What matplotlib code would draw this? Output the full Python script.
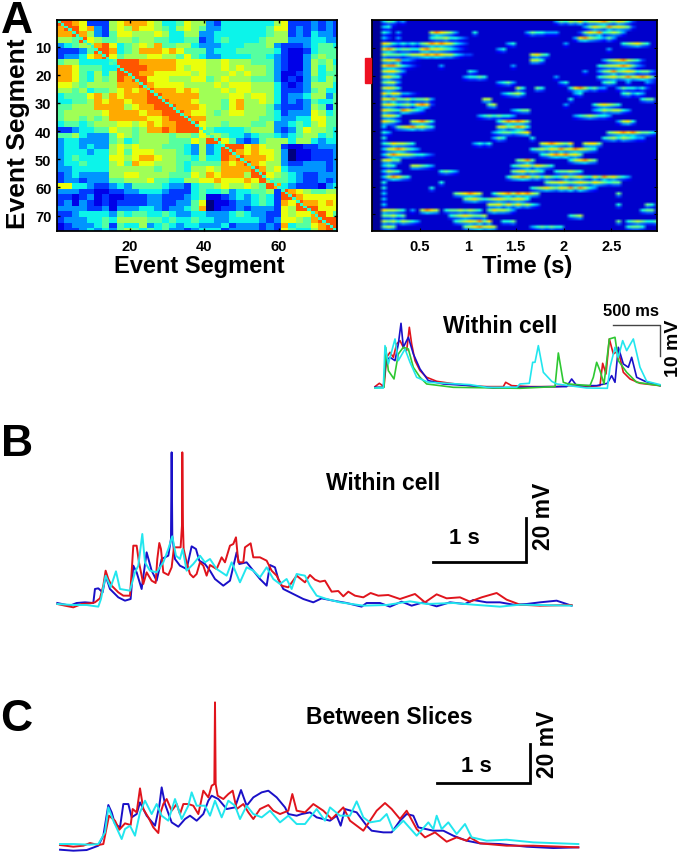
import numpy as np
import matplotlib
matplotlib.use('Agg')
import matplotlib.pyplot as plt
from matplotlib.patches import Rectangle

plt.rcParams['font.family'] = ['Liberation Sans', 'DejaVu Sans']
plt.rcParams['font.weight'] = 'bold'

W, H = 681, 853

# correlation matrix, blocks of 2 event segments, level 0-9
corr_rows = [
    "99872 22678 88764 45766 32444 44446 72223 232",
    "89978 32676 87765 46765 33444 44457 72323 232",
    "88986 32577 66676 44663 34444 44456 62324 332",
    "66597 65566 56655 44552 34544 44566 63334 433",
    "34566 89745 67685 56643 33444 55563 22234 554",
    "22235 99845 68887 87555 34445 55554 21124 555",
    "23347 89756 66776 65754 33444 45543 21135 655",
    "56644 44599 98888 87777 66766 65553 21136 564",
    "88755 54499 99888 87677 66767 66653 21136 465",
    "88754 64699 98877 77767 66676 76653 11236 455",
    "88754 65698 99777 66677 56766 65553 12135 465",
    "77656 66688 89877 77666 67677 76664 21236 664",
    "66564 55678 78988 87876 66767 76664 22235 644",
    "45557 86878 88998 88886 66677 67764 23346 635",
    "44556 87887 88999 88876 66578 66764 23235 445",
    "55666 88886 78899 98887 66578 66653 22236 525",
    "56666 67888 87889 99877 65677 66654 23337 645",
    "56656 56888 88778 99988 66666 66554 33447 755",
    "45545 66677 67878 89997 66566 65563 34546 755",
    "22344 55766 56889 89997 54444 56663 23576 654",
    "55643 33576 56666 56657 66544 34554 34566 454",
    "34433 33564 56666 55576 99753 23566 64664 344",
    "34434 33676 76665 55436 34999 78766 21122 333",
    "34443 44675 77766 65436 34998 78776 30112 223",
    "34544 44776 78876 65546 44989 88876 30112 223",
    "34454 44675 87766 65455 55878 98766 32233 323",
    "33444 44666 66656 65466 76888 89867 43333 323",
    "23433 33667 76666 55576 87888 69976 54322 333",
    "23323 33556 66755 44667 78777 87965 54322 323",
    "77443 22343 55554 33245 56766 76598 43222 134",
    "33322 11223 34443 22245 44534 45562 98765 566",
    "22123 12112 22332 22345 11234 34542 99877 777",
    "23132 12122 22332 23357 01123 34542 87988 787",
    "33332 23133 34432 33458 01223 23332 76999 777",
    "22344 44354 55445 43344 33345 43322 76778 975",
    "23334 45466 66554 54454 43344 44323 77658 999",
    "12333 45254 46345 43443 33423 33232 84557 899",
    "12234 34356 54545 33234 44233 33232 75446 899",
]
diag_level = 4.5

# spiking raster, 38 rows of 2 events, columns of 50 ms, . is background
raster_rows = [
    "..35423... .......... .......... ........35 4657466786 57642.....",
    "..341..... .......... .......... .......... ....357658 67652.....",
    "..43.3.... ..687653.. .4........ ..3544333. ...2576845 653.......",
    "..32.3.... ..45564432 .......... .......... ..37865435 3.........",
    "..76434343 5687876432 ........34 .......... 3......... ..456754..",
    "..78645544 7867654321 ......34.. .......... .........3 ..........",
    "..65554566 7878766432 2......... ...6754... .......... ..........",
    "..67683321 .......... .......... ...664.... ........35 6786542...",
    "..78864321 ....3..... .........3 .......... .......456 6787532...",
    "..67753... .......... 43........ .......... ....3..356 8567645531",
    "..6754.... .........3 4454...... ........3. .......456 7568678752",
    "..5663.... .......... ......3453 .........3 4.......45 4..3...32.",
    "..6764.... .......... .......... 64..54.... .47864533. .3544342..",
    "..75763321 .......... .......345 64........ ..34...... ..45343...",
    "..76855645 563....... ...66..... .......... .4........ ......455.",
    "..67645647 872....... ....56.... .......... 3.....4676 54........",
    "..76548754 3......... .........3 455....... ......3465 6643......",
    "..6764.... .......... ..34545443 .......... ..34565443 ..........",
    "..7653..67 864....... ......4687 875....... .......... .3674.....",
    "..3.256786 754....... ......6756 874....... .......... ..........",
    "..43...... .......... .....34554 567....... .........5 6787865543",
    "..4....... .......... .....354.. ...4...... ........45 6465433...",
    "..4576654. .......... .3434..... .....67876 57..6775.. ..........",
    "...6787543 .......... .......... ...4565768 6787654... ..........",
    "...6876654 432....... .......... .....45787 8675...... ..........",
    "..6755.... .......... .......... 5685...... .467865... ..........",
    "...54...66 543....... .........4 56757654.. .......... ..........",
    "...654.... ....4543.. .........5 675654..45 5654...... ..........",
    "...68754.. .......... ........46 7875646545 7567547586 7543......",
    "..4....... ....4..... .......... ......5667 6567657654 55........",
    "..4....... ..4....... .......... ...4567657 6858643... ..........",
    "..3....... .......567 876..46786 87865..... .......... .5........",
    "..3....... .........5 6754567656 764....... .......... ..........",
    "..3....... .......... ....667575 75643..... .......... .4.....54.",
    "..76654.3. 6876.45565 654.576653 .......... .......... ......455.",
    "..55645... ......4567 6556...... .......... .456...... ..........",
    "..65646543 .......456 76857..445 .......... .......... .5.4565445",
    "..565..... .........5 678676.... ...3454544 .......... ...4554...",
]

# traces: x along the trace, y height
A_red_x = [15, 28, 42, 50, 60, 70, 80, 90, 100, 110, 118, 125, 135, 150, 170, 200, 240, 300, 350, 400, 407, 425, 480, 560, 600, 650, 690, 698, 708, 718, 730, 745, 760, 780, 810, 870]
A_red_y = [278, 268, 278, 190, 175, 190, 150, 140, 160, 170, 100, 150, 200, 230, 250, 262, 268, 275, 278, 278, 265, 275, 278, 278, 275, 278, 275, 208, 240, 135, 180, 170, 235, 255, 268, 275]
A_blue_x = [15, 40, 48, 60, 75, 85, 93, 100, 115, 130, 150, 175, 220, 300, 370, 450, 540, 590, 605, 620, 680, 712, 725, 735, 745, 760, 775, 785, 800, 825, 870]
A_blue_y = [280, 280, 200, 190, 200, 150, 88, 160, 130, 180, 225, 260, 270, 275, 282, 280, 278, 278, 255, 275, 275, 268, 245, 265, 160, 210, 220, 190, 250, 262, 275]
A_green_x = [15, 42, 47, 55, 72, 85, 100, 115, 130, 150, 170, 250, 450, 555, 565, 580, 595, 660, 670, 680, 690, 702, 718, 735, 745, 770, 800, 870]
A_green_y = [282, 280, 160, 230, 255, 180, 160, 165, 220, 250, 270, 280, 283, 278, 177, 265, 270, 275, 250, 205, 230, 270, 135, 130, 200, 235, 265, 275]
A_cyan_x = [15, 40, 45, 55, 75, 85, 105, 120, 140, 175, 300, 350, 440, 450, 478, 488, 495, 505, 520, 545, 560, 650, 712, 720, 735, 745, 758, 770, 790, 810, 830, 870]
A_cyan_y = [282, 282, 155, 210, 135, 200, 165, 205, 250, 265, 272, 280, 280, 270, 268, 205, 205, 155, 235, 262, 270, 282, 283, 220, 160, 190, 140, 170, 135, 220, 262, 272]

B_red_x = [52, 75, 100, 125, 150, 165, 180, 190, 197, 205, 215, 235, 250, 270, 275, 280, 290, 297, 310, 320, 335, 347, 352, 358, 363, 370, 385, 395, 402, 415, 422, 426, 427, 429, 431, 440, 450, 460, 470, 480, 490, 500, 510, 530, 545, 555, 570, 580, 588, 595, 610, 615, 632, 640, 660, 680, 695, 710, 725, 745, 770, 795, 810, 825, 840, 855, 875, 895, 910, 925, 945, 970, 992, 1015, 1045, 1080, 1125, 1155, 1190, 1220, 1260, 1290, 1325, 1370, 1400, 1440, 1500, 1595]
B_red_y = [495, 500, 505, 495, 493, 490, 478, 440, 395, 420, 440, 460, 470, 470, 400, 320, 320, 370, 435, 400, 425, 432, 360, 312, 330, 400, 408, 385, 325, 325, 325, 260, 40, 260, 330, 370, 405, 415, 405, 370, 380, 410, 378, 390, 355, 370, 320, 315, 295, 370, 370, 325, 313, 355, 355, 365, 395, 410, 440, 445, 410, 430, 408, 422, 428, 425, 458, 456, 472, 458, 470, 475, 462, 470, 468, 480, 465, 490, 466, 478, 475, 488, 475, 462, 482, 497, 500, 498]
B_blue_x = [52, 90, 110, 135, 160, 165, 175, 188, 197, 210, 235, 255, 272, 280, 290, 305, 320, 335, 350, 365, 385, 393, 395, 397, 405, 420, 440, 455, 468, 478, 495, 510, 525, 550, 570, 590, 598, 620, 640, 660, 680, 690, 705, 715, 730, 760, 790, 820, 845, 880, 920, 965, 980, 1020, 1050, 1085, 1115, 1150, 1190, 1230, 1275, 1300, 1340, 1380, 1420, 1460, 1500, 1550, 1595]
B_blue_y = [492, 500, 492, 490, 492, 450, 448, 460, 410, 450, 475, 485, 480, 380, 400, 450, 340, 395, 425, 360, 350, 300, 40, 290, 360, 380, 390, 322, 330, 365, 375, 395, 420, 440, 425, 340, 375, 370, 395, 420, 440, 378, 385, 420, 450, 465, 480, 490, 478, 485, 492, 503, 492, 492, 503, 488, 500, 490, 502, 490, 495, 483, 490, 490, 497, 495, 490, 485, 500]
B_cyan_x = [52, 100, 140, 175, 183, 197, 212, 228, 240, 270, 285, 295, 307, 315, 330, 350, 370, 385, 397, 408, 420, 428, 440, 460, 480, 495, 510, 530, 560, 575, 600, 620, 640, 660, 680, 700, 720, 740, 755, 770, 795, 810, 830, 860, 900, 970, 1040, 1110, 1160, 1240, 1300, 1380, 1440, 1595]
B_cyan_y = [495, 498, 498, 503, 480, 410, 445, 397, 450, 455, 400, 380, 285, 370, 395, 400, 370, 330, 292, 350, 360, 330, 395, 375, 350, 370, 360, 390, 410, 370, 430, 385, 395, 415, 385, 420, 435, 420, 450, 405, 410, 440, 470, 480, 490, 500, 498, 487, 495, 492, 497, 503, 497, 500]

C_red_x = [60, 100, 130, 150, 175, 190, 197, 207, 225, 238, 255, 272, 278, 290, 300, 310, 325, 340, 355, 362, 370, 380, 395, 410, 420, 430, 445, 460, 475, 490, 505, 515, 523, 525, 527, 533, 550, 565, 578, 590, 610, 625, 640, 660, 685, 700, 720, 745, 757, 770, 795, 820, 850, 875, 910, 930, 970, 990, 1010, 1035, 1055, 1080, 1100, 1130, 1155, 1185, 1220, 1250, 1280, 1290, 1320, 1400, 1480, 1615]
C_red_y = [468, 473, 470, 462, 468, 465, 430, 380, 395, 422, 403, 408, 360, 370, 298, 360, 385, 415, 432, 370, 345, 330, 365, 345, 375, 345, 345, 350, 375, 305, 325, 290, 285, 40, 285, 320, 330, 315, 305, 360, 345, 370, 390, 360, 348, 365, 375, 365, 315, 365, 370, 345, 365, 390, 355, 395, 425, 395, 365, 342, 360, 390, 365, 420, 445, 430, 458, 445, 455, 445, 463, 470, 470, 475]
C_blue_x = [60, 100, 140, 175, 190, 205, 215, 225, 240, 250, 265, 275, 290, 300, 320, 345, 358, 365, 375, 395, 415, 435, 450, 470, 490, 505, 515, 535, 560, 585, 603, 620, 640, 665, 685, 710, 735, 745, 770, 785, 810, 830, 870, 890, 902, 915, 950, 980, 995, 1030, 1055, 1080, 1100, 1120, 1135, 1180, 1210, 1240, 1280, 1320, 1380, 1460, 1540, 1615]
C_blue_y = [482, 485, 483, 470, 440, 348, 370, 405, 415, 345, 345, 385, 375, 340, 380, 410, 350, 295, 345, 400, 413, 390, 380, 395, 375, 335, 320, 330, 360, 355, 303, 350, 325, 310, 305, 325, 355, 375, 380, 375, 370, 385, 395, 380, 410, 360, 370, 410, 425, 430, 430, 395, 375, 380, 415, 425, 425, 440, 455, 463, 465, 473, 477, 475]
C_cyan_x = [60, 100, 150, 175, 195, 205, 220, 245, 255, 270, 285, 300, 315, 335, 350, 365, 385, 405, 425, 445, 455, 470, 495, 510, 525, 545, 565, 585, 600, 620, 640, 665, 690, 720, 745, 770, 795, 830, 855, 870, 900, 930, 950, 970, 990, 1020, 1040, 1060, 1090, 1130, 1165, 1180, 1190, 1205, 1225, 1250, 1275, 1295, 1340, 1400, 1480, 1615]
C_cyan_y = [465, 465, 467, 465, 430, 355, 395, 450, 420, 410, 440, 370, 335, 375, 345, 380, 395, 330, 390, 350, 310, 350, 350, 380, 335, 385, 335, 350, 390, 350, 375, 385, 365, 400, 380, 405, 405, 360, 395, 355, 380, 380, 337, 385, 400, 395, 375, 425, 395, 440, 400, 420, 380, 420, 400, 435, 405, 445, 455, 452, 460, 465]

red = '#e0141c'
blue = '#1a10c8'
green = '#2ec832'
cyan = '#22e6ee'


def px_axes(fig, x0, y0, x1, y1):
    return fig.add_axes([x0 / W, 1 - y1 / H, (x1 - x0) / W, (y1 - y0) / H])


def px_text(fig, x, y, s, size, va='center', **kw):
    fig.text(x / W, 1 - y / H, s, fontsize=size, fontweight='bold', ha='center', va=va, **kw)


def trace_axes(fig, y0, y1, org_x, org_y, px_s, px_mv):
    # axes in seconds and mV, trace origin at (org_x, org_y) on the figure
    ax = px_axes(fig, 0, y0, W, y1)
    ax.set_xlim(-org_x / px_s, (W - org_x) / px_s)
    ax.set_ylim((org_y - y1) / px_mv, (org_y - y0) / px_mv)
    ax.axis('off')
    ax.patch.set_alpha(0)
    return ax


fig = plt.figure(figsize=(W / 100, H / 100), dpi=100)

# A, correlation matrix
corr = np.array([[int(c) for c in row.replace(' ', '')] for row in corr_rows], dtype=float)
corr = np.repeat(np.repeat(corr, 2, axis=0), 2, axis=1)[:75, :75]
np.fill_diagonal(corr, diag_level)

ax = px_axes(fig, 57, 21, 337, 232)
ax.imshow(corr, cmap='jet', vmin=0, vmax=11, aspect='auto', interpolation='nearest',
          extent=(0.5, 75.5, 75.5, 0.5))
ax.set_xticks([20, 40, 60])
ax.set_yticks([10, 20, 30, 40, 50, 60, 70])
ax.tick_params(direction='in', length=2.5, width=1, top=True, right=True, labelsize=10.5)
ax.tick_params(axis='x', pad=6)
ax.tick_params(axis='y', pad=4)
for s in ax.spines.values():
    s.set_linewidth(1.3)

# A, raster: every event row alternates with a dim one, so bursts stay streaky
raster = np.array([[0.7 if c == '.' else float(c) for c in row.replace(' ', '')]
                   for row in raster_rows])
raster[:, :2] = 0.25
raster[:, 2] = np.maximum(raster[:, 2], 3.5)
streaks = np.repeat(raster, 2, axis=0)
streaks[1::2] = np.maximum(streaks[1::2] * 0.45, 0.7)
streaks[1::2, :2] = 0.25

ax = px_axes(fig, 372, 21, 657, 232)
ax.imshow(streaks, cmap='jet', vmin=0, vmax=10.5, aspect='auto', interpolation='bilinear',
          extent=(0, 3, 38, 0))
ax.set_xlim(0, 2.975)
ax.set_xticks([0.5, 1, 1.5, 2, 2.5])
ax.set_xticklabels(['0.5', '1', '1.5', '2', '2.5'])
ax.set_yticks(np.arange(5, 38, 5))
ax.set_yticklabels([])
ax.tick_params(direction='in', length=2, width=0.8, top=False, right=True, labelsize=10.5, pad=6)
for s in ax.spines.values():
    s.set_linewidth(1.3)

fig.add_artist(Rectangle((365 / W, 1 - 84 / H), 6 / W, 25 / H, color='#ee1122',
                         transform=fig.transFigure))

# A, within cell traces
ax = trace_axes(fig, 300, 400, 375, 388.3, 94, 3.1)
for xs, ys, col in [(A_red_x, A_red_y, red), (A_blue_x, A_blue_y, blue),
                    (A_green_x, A_green_y, green), (A_cyan_x, A_cyan_y, cyan)]:
    ax.plot((np.array(xs) - 15) / 282, (280 - np.array(ys)) / 9.3, color=col, lw=1.2)
ax.plot([2.535, 3.03, 3.03], [20.2, 20.2, 10.2], color='#444444', lw=1)

# B
ax = trace_axes(fig, 440, 620, 57.3, 605, 93, 2.2)
for xs, ys, col in [(B_blue_x, B_blue_y, blue), (B_red_x, B_red_y, red), (B_cyan_x, B_cyan_y, cyan)]:
    ax.plot((np.array(xs) - 52) / 279, (495 - np.array(ys)) / 6.6, color=col, lw=1.4)
ax.plot([4.04, 5.04, 5.04], [19.1, 19.1, 39.1], color='black', lw=2, solid_joinstyle='miter')

# C
ax = trace_axes(fig, 690, 853, 60, 846.7, 93, 1.95)
for xs, ys, col in [(C_blue_x, C_blue_y, blue), (C_red_x, C_red_y, red), (C_cyan_x, C_cyan_y, cyan)]:
    ax.plot((np.array(xs) - 60) / 279, (470 - np.array(ys)) / 5.85, color=col, lw=1.4)
ax.plot([4.05, 5.05, 5.05], [32, 32, 52], color='black', lw=2, solid_joinstyle='miter')

# labels
px_text(fig, 17, 33, 'A', 32, va='baseline')
px_text(fig, 17, 456, 'B', 32, va='baseline')
px_text(fig, 16, 731, 'C', 32, va='baseline')
px_text(fig, 18, 134, 'Event Segment', 19, rotation=90)
px_text(fig, 199, 266, 'Event Segment', 17)
px_text(fig, 527, 266, 'Time (s)', 17)
px_text(fig, 500, 327, 'Within cell', 16.5)
px_text(fig, 631, 311, '500 ms', 12)
px_text(fig, 674, 348, '10 mV', 14, rotation=90)
px_text(fig, 383, 484, 'Within cell', 16.5)
px_text(fig, 464, 539, '1 s', 16)
px_text(fig, 543, 516, '20 mV', 16.5, rotation=90)
px_text(fig, 389, 718, 'Between Slices', 16.5)
px_text(fig, 476, 767, '1 s', 16)
px_text(fig, 548, 744, '20 mV', 16.5, rotation=90)

fig.savefig('out.png', dpi=100)
